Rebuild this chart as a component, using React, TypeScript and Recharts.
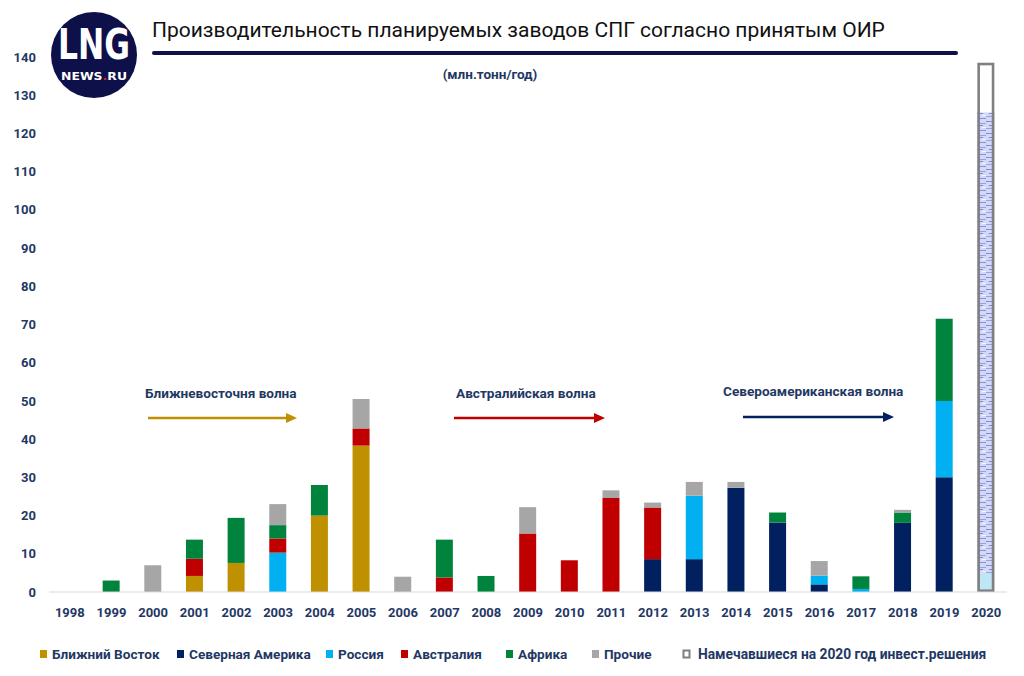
import { BarChart, Bar, XAxis, YAxis } from 'recharts';

const years = ['1998', '1999', '2000', '2001', '2002', '2003', '2004', '2005', '2006', '2007', '2008', '2009',
  '2010', '2011', '2012', '2013', '2014', '2015', '2016', '2017', '2018', '2019', '2020'];

// млн.тонн/год
const middleEast = [0, 0, 0, 4.2, 7.6, 0, 20, 38.3, 0, 0, 0, 0, 0, 0, 0, 0, 0, 0, 0, 0, 0, 0, 0];
const northAmerica = [0, 0, 0, 0, 0, 0, 0, 0, 0, 0, 0, 0, 0, 0, 8.6, 8.6, 27.3, 18.2, 2, 0, 18.1, 30, 0];
const russia = [0, 0, 0, 0, 0, 10.3, 0, 0, 0, 0, 0, 0, 0, 0, 0, 16.6, 0, 0, 2.3, 0.8, 0, 20, 0];
const australia = [0, 0, 0, 4.5, 0, 3.7, 0, 4.5, 0, 3.8, 0, 15.3, 8.3, 24.6, 13.5, 0, 0, 0, 0, 0, 0, 0, 0];
const africa = [0, 3, 0, 5, 11.8, 3.5, 8, 0, 0, 9.9, 4.2, 0, 0, 0, 0, 0, 0, 2.6, 0, 3.3, 2.7, 21.5, 0];
const other = [0, 0, 7, 0, 0, 5.5, 0, 7.7, 4, 0, 0, 6.9, 0, 2, 1.3, 3.6, 1.5, 0, 3.8, 0, 0.7, 0, 0];
const planned = [0, 0, 0, 0, 0, 0, 0, 0, 0, 0, 0, 0, 0, 0, 0, 0, 0, 0, 0, 0, 0, 0, 138.5];
// shading inside the 2020 bar
const plannedTextured = 125.5;
const plannedLight = 4.9;

const yTicks = [0, 10, 20, 30, 40, 50, 60, 70, 80, 90, 100, 110, 120, 130, 140];

const NAVY_TEXT = '#1f3864';

const series = [
  { key: 'me', name: 'Ближний Восток', color: '#bf9000' },
  { key: 'na', name: 'Северная Америка', color: '#002060' },
  { key: 'ru', name: 'Россия', color: '#00b0f0' },
  { key: 'au', name: 'Австралия', color: '#c00000' },
  { key: 'af', name: 'Африка', color: '#00843d' },
  { key: 'ot', name: 'Прочие', color: '#a6a6a6' },
];

const data = years.map((year, i) => ({
  year,
  me: middleEast[i],
  na: northAmerica[i],
  ru: russia[i],
  au: australia[i],
  af: africa[i],
  ot: other[i],
  plan: planned[i],
}));

function PlannedShape(props: any) {
  const { x, y, width, height, value } = props;
  if (!height || height <= 0) return null;
  const v = Array.isArray(value) ? value[1] - value[0] : value;
  const yTex = y + height * (1 - plannedTextured / v);
  const yLight = y + height * (1 - plannedLight / v);
  return (
    <g>
      <rect x={x} y={y} width={width} height={height} fill="#ffffff" />
      <rect x={x} y={yTex} width={width} height={y + height - yTex} fill="url(#plannedTex)" />
      <rect x={x} y={yLight} width={width} height={y + height - yLight - 1} fill="#bfe6f4" />
      <rect x={x + 1.3} y={y + 1.3} width={width - 2.6} height={height - 2.6} fill="none" stroke="#808080" strokeWidth={2.6} />
    </g>
  );
}

function Arrow({ x1, x2, y, color }: { x1: number; x2: number; y: number; color: string }) {
  return (
    <g>
      <line x1={x1} y1={y} x2={x2 - 8} y2={y} stroke={color} strokeWidth={2.6} />
      <polygon points={`${x2},${y} ${x2 - 11},${y - 5} ${x2 - 11},${y + 5}`} fill={color} />
    </g>
  );
}

const legendItems = [
  { x: 40, ...series[0] },
  { x: 177, ...series[1] },
  { x: 326, ...series[2] },
  { x: 401, ...series[3] },
  { x: 506, ...series[4] },
  { x: 592, ...series[5] },
];

export default function App() {
  return (
    <div style={{ position: 'absolute', left: 0, top: 0, width: 1024, height: 676, background: '#fff', fontFamily: 'Roboto, sans-serif' }}>
      <BarChart
        width={1024}
        height={676}
        data={data}
        margin={{ top: 57, right: 17, left: 0, bottom: 54 }}
        barSize={17}
      >
        <defs>
          <pattern id="plannedTex" width="17" height="12" patternUnits="userSpaceOnUse">
            <rect width="17" height="12" fill="#d3d9f5" />
            <line x1="0" y1="1.5" x2="9" y2="1.5" stroke="#7f8de0" strokeWidth="1" />
            <line x1="11" y1="3.5" x2="17" y2="3.5" stroke="#95a1e6" strokeWidth="1" />
            <line x1="3" y1="5.5" x2="14" y2="5.5" stroke="#7a88dd" strokeWidth="1" />
            <line x1="0" y1="8.5" x2="6" y2="8.5" stroke="#9aa5e8" strokeWidth="1" />
            <line x1="8" y1="10.5" x2="17" y2="10.5" stroke="#8391e0" strokeWidth="1" />
            <line x1="13" y1="7.5" x2="17" y2="7.5" stroke="#f4f6fd" strokeWidth="1" />
          </pattern>
        </defs>
        <XAxis
          dataKey="year"
          interval={0}
          tickLine={false}
          axisLine={{ stroke: '#d9d9d9' }}
          tickMargin={10}
          tick={{ fill: NAVY_TEXT, fontSize: 13, fontWeight: 700 }}
        />
        <YAxis
          domain={[0, 140]}
          ticks={yTicks}
          width={49}
          tickLine={false}
          axisLine={false}
          tick={{ fill: NAVY_TEXT, fontSize: 13, fontWeight: 700, dx: -5 }}
        />
        {series.map(s => (
          <Bar key={s.key} dataKey={s.key} name={s.name} stackId="a" fill={s.color} isAnimationActive={false} />
        ))}
        <Bar dataKey="plan" name="Намечавшиеся на 2020 год инвест.решения" stackId="a" shape={PlannedShape} isAnimationActive={false} />
      </BarChart>

      <svg width={1024} height={676} style={{ position: 'absolute', left: 0, top: 0, pointerEvents: 'none' }}>
        {/* logo */}
        <circle cx={94} cy={55} r={43} fill="#0e1049" />
        <text x={94} y={59} textAnchor="middle" fill="#fff" fontFamily="DejaVu Sans" fontWeight={700} fontSize={42} textLength={72} lengthAdjust="spacingAndGlyphs">LNG</text>
        <text x={94} y={80} textAnchor="middle" fill="#fff" fontFamily="DejaVu Sans" fontWeight={700} fontSize={10} textLength={66} lengthAdjust="spacingAndGlyphs">
          NEWS<tspan fill="#e02020">.</tspan>RU
        </text>

        {/* title */}
        <text x={152} y={37} fill="#111" fontSize={21} fontFamily="Roboto">
          Производительность планируемых заводов СПГ согласно принятым ОИР
        </text>
        <line x1={154} y1={53} x2={956} y2={53} stroke="#0e1049" strokeWidth={4} strokeLinecap="round" />
        <text x={490} y={79} textAnchor="middle" fill={NAVY_TEXT} fontSize={13.5} fontWeight={700}>(млн.тонн/год)</text>

        {/* waves */}
        <text x={145} y={398} fill={NAVY_TEXT} fontSize={13.6} fontWeight={700}>Ближневосточня волна</text>
        <Arrow x1={148} x2={297} y={418} color="#bf9000" />
        <text x={456} y={398} fill={NAVY_TEXT} fontSize={13.6} fontWeight={700}>Австралийская волна</text>
        <Arrow x1={454} x2={605} y={418} color="#c00000" />
        <text x={723} y={396} fill={NAVY_TEXT} fontSize={13.6} fontWeight={700}>Североамериканская волна</text>
        <Arrow x1={743} x2={894} y={417} color="#002060" />

        {/* legend */}
        {legendItems.map(it => (
          <g key={it.key}>
            <rect x={it.x} y={650} width={7} height={8} fill={it.color} />
            <text x={it.x + 12} y={659} fill={NAVY_TEXT} fontSize={13.6} fontWeight={700}>{it.name}</text>
          </g>
        ))}
        <rect x={683.5} y={650.5} width={6} height={7} fill="#fff" stroke="#808080" strokeWidth={2} />
        <text x={698} y={659} fill={NAVY_TEXT} fontSize={13.8} fontWeight={700}>Намечавшиеся на 2020 год инвест.решения</text>
      </svg>
    </div>
  );
}
